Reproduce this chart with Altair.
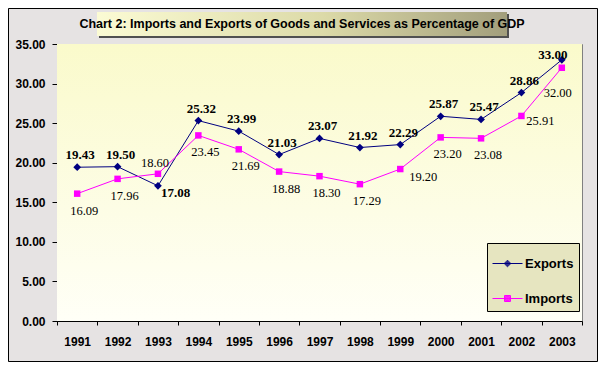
import json
import altair as alt
import pandas as pd

# ---------------- data ----------------
years = ["1991", "1992", "1993", "1994", "1995", "1996", "1997",
         "1998", "1999", "2000", "2001", "2002", "2003"]
exports = [19.43, 19.50, 17.08, 25.32, 23.99, 21.03, 23.07,
           21.92, 22.29, 25.87, 25.47, 28.86, 33.00]
imports = [16.09, 17.96, 18.60, 23.45, 21.69, 18.88, 18.30,
           17.29, 19.20, 23.20, 23.08, 25.91, 32.00]
series_names = ["Exports", "Imports"]
y_ticks = [0, 5, 10, 15, 20, 25, 30, 35]
title_text = "Chart 2: Imports and Exports of Goods and Services as Percentage of GDP"

rows = []
for yr, e, i in zip(years, exports, imports):
    rows.append({"year": yr, "series": "Exports", "value": e})
    rows.append({"year": yr, "series": "Imports", "value": i})
df = pd.DataFrame(rows)
one = pd.DataFrame({"k": [0]})

# ---------------- styles ----------------
W, H = 525, 277
NAVY, MAGENTA = "#000080", "#ff00ff"
SANS = "Liberation Sans, Arial, sans-serif"
SERIF = "Liberation Serif, Times New Roman, serif"

# label placement (dx, dy, align) – default and per-year exceptions
exp_default = (3, -8, "center")
imp_default = (7, 21, "center")
exp_adjust = {"1993": (3, 11, "left"), "2003": (-9, -1, "center")}
imp_adjust = {"1993": (-3, -7, "center"), "1999": (23, 12, "center"),
              "2002": (19, 9, "center"), "2003": (-4, 29, "center")}

x_enc = alt.X("year:O",
              scale=alt.Scale(type="band", paddingInner=0, paddingOuter=0),
              axis=alt.Axis(title=None, labelAngle=0, tickBand="extent", tickSize=4,
                            tickColor="black", domainColor="black", labelColor="black",
                            labelFont=SANS, labelFontWeight="bold", labelFontSize=12,
                            labelPadding=11, grid=False))
y_enc = alt.Y("value:Q",
              scale=alt.Scale(domain=[0, 35], nice=False, zero=True),
              axis=alt.Axis(title=None, values=y_ticks, format=".2f", tickSize=5,
                            tickColor="black", domainColor="black", labelColor="black",
                            labelFont=SANS, labelFontWeight="bold", labelFontSize=12,
                            labelPadding=7, grid=False))
color_scale = alt.Scale(domain=series_names, range=[NAVY, MAGENTA])

base = alt.Chart(df)
exp_data = base.transform_filter("datum.series === 'Exports'")
imp_data = base.transform_filter("datum.series === 'Imports'")

exp_line = exp_data.mark_line(strokeWidth=1, color=NAVY).encode(x=x_enc, y=y_enc)
imp_line = imp_data.mark_line(strokeWidth=1, color=MAGENTA).encode(x=x_enc, y=y_enc)
exp_points = exp_data.mark_point(
    filled=True, shape="diamond", size=60, color=NAVY, opacity=1).encode(x=x_enc, y=y_enc)
imp_points = imp_data.mark_point(
    filled=True, shape="square", size=42, color=MAGENTA, opacity=1).encode(x=x_enc, y=y_enc)

# legend symbols: a line with a (solidly stroked) marker in the middle
def nested_diamond(rs):
    return "M-1,0H1" + "".join("M0,-%sL%s,0L0,%sL-%s,0Z" % (r, r, r, r) for r in rs)

def nested_square(rs):
    return "M-1,0H1" + "".join("M-%s,-%sH%sV%sH-%sZ" % (r, r, r, r, r) for r in rs)

diamond_leg = nested_diamond([0.22, 0.15, 0.08, 0.02])
square_leg = nested_square([0.2, 0.14, 0.08, 0.02])

legend = alt.Legend(
    title=None, orient="none", legendX=430, legendY=199,
    direction="vertical", fillColor="#e6e5c0", strokeColor="black",
    padding=5, rowPadding=12, symbolSize=900, symbolStrokeWidth=1, symbolOpacity=1,
    labelFont=SANS, labelFontSize=13, labelFontWeight="bold",
    labelColor="black", labelOffset=2)

legend_layer = base.transform_filter("false").mark_point(filled=False, strokeWidth=1).encode(
    x=x_enc, y=y_enc,
    color=alt.Color("series:N", scale=color_scale, legend=legend),
    shape=alt.Shape("series:N", scale=alt.Scale(domain=series_names, range=[diamond_leg, square_leg]),
                    legend=legend),
)


def label_layer(series, sel_years, dx, dy, align, weight, size):
    expr = "datum.series === '%s' && indexof(%s, datum.year) >= 0" % (series, json.dumps(sel_years))
    return base.transform_filter(expr).mark_text(
        font=SERIF, fontWeight=weight, fontSize=size, color="black",
        align=align, baseline="alphabetic", dx=dx, dy=dy,
    ).encode(x=x_enc, y=y_enc, text=alt.Text("value:Q", format=".2f"))


labels = []
exp_rest = [y for y in years if y not in exp_adjust]
labels.append(label_layer("Exports", exp_rest, *exp_default, "bold", 13))
for yr, (dx, dy, al) in exp_adjust.items():
    labels.append(label_layer("Exports", [yr], dx, dy, al, "bold", 13))
imp_rest = [y for y in years if y not in imp_adjust]
labels.append(label_layer("Imports", imp_rest, *imp_default, "normal", 12.5))
for yr, (dx, dy, al) in imp_adjust.items():
    labels.append(label_layer("Imports", [yr], dx, dy, al, "normal", 12.5))

# ---------------- decorations: frame, plot background, title box ----------------
frame = alt.Chart(one).mark_rect(filled=False, stroke="black", strokeWidth=1).encode(
    x=alt.value(-48.5), x2=alt.value(540.5), y=alt.value(-35.5), y2=alt.value(317.5))

plot_bg = alt.Chart(one).mark_rect(
    fill=alt.LinearGradient(gradient="linear",
                            stops=[alt.GradientStop(color="#fafacb", offset=0),
                                   alt.GradientStop(color="#fffff7", offset=1)],
                            x1=0, x2=0, y1=0, y2=1)).encode(
    x=alt.value(0), x2=alt.value(W), y=alt.value(0), y2=alt.value(H))

title_shadow = alt.Chart(one).mark_rect(fill="#505050").encode(
    x=alt.value(42), x2=alt.value(452), y=alt.value(-30), y2=alt.value(-6))
title_box = alt.Chart(one).mark_rect(
    fill=alt.LinearGradient(gradient="linear",
                            stops=[alt.GradientStop(color="#fbfbd4", offset=0),
                                   alt.GradientStop(color="#dcdaa8", offset=0.55),
                                   alt.GradientStop(color="#a29e7c", offset=1)],
                            x1=0, x2=1, y1=0, y2=0)).encode(
    x=alt.value(40), x2=alt.value(450), y=alt.value(-32), y2=alt.value(-8))
title_mark = alt.Chart(one).mark_text(
    text=title_text, font="Liberation Sans Narrow, Arial Narrow, " + SANS,
    fontWeight="bold", fontSize=12.5, color="black", align="center", baseline="middle",
).encode(x=alt.value(245), y=alt.value(-20))

chart = alt.layer(
    frame, plot_bg, title_shadow, title_box, title_mark,
    exp_line, imp_line, exp_points, imp_points, legend_layer, *labels
).properties(
    width=W, height=H,
    autosize=alt.AutoSizeParams(type="none"),
    padding={"left": 49, "top": 36, "right": 16, "bottom": 41},
    background="#e6e3e3",
).configure_view(
    stroke="#808080", strokeWidth=1,
)

chart.save("out.html", embed_options={"renderer": "svg", "actions": False})
